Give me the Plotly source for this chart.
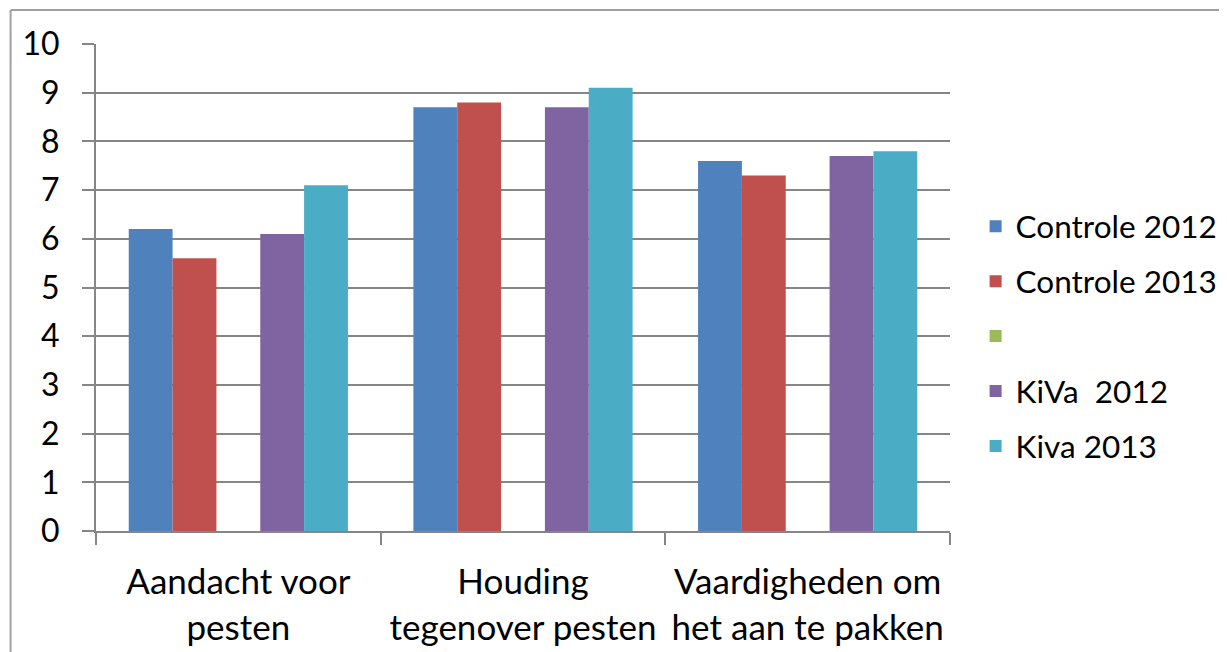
import plotly.graph_objects as go

categories = ["Aandacht voor<br>pesten", "Houding<br>tegenover pesten", "Vaardigheden om<br>het aan te pakken"]
series_names = ["Controle 2012", "Controle 2013", " ", "KiVa  2012", "Kiva 2013"]
controle_2012 = [6.2, 8.7, 7.6]
controle_2013 = [5.6, 8.8, 7.3]
empty_series = [None, None, None]
kiva_2012 = [6.1, 8.7, 7.7]
kiva_2013 = [7.1, 9.1, 7.8]
colors = ["#4F81BD", "#C0504D", "#9BBB59", "#8064A2", "#4BACC6"]
y_ticks = list(range(0, 11))

FONT = "Lato"
fig = go.Figure()
for i, (name, vals) in enumerate(zip(series_names,
                                     [controle_2012, controle_2013, empty_series, kiva_2012, kiva_2013])):
    fig.add_trace(go.Bar(x=categories, y=vals, name=name, marker_color=colors[i],
                         marker_line_width=0, legendgroup=str(i)))

# page has an 8px body margin, so the figure is laid out 8px up/left of the reference
fig.update_layout(
    width=1219, height=644,
    margin=dict(l=88, r=277, t=36, b=121, autoexpand=False),
    paper_bgcolor="white", plot_bgcolor="white",
    barmode="group", bargap=0.23, bargroupgap=0,
    font=dict(family=FONT, size=32, color="black"),
    legend=dict(x=1.030, xanchor="left", y=0.40, yanchor="middle",
                font=dict(family=FONT, size=31.5, color="black"),
                tracegroupgap=11, itemwidth=30),
    showlegend=True,
)
fig.update_yaxes(range=[0, 10], tickvals=y_ticks, showgrid=True, gridcolor="#868686", gridwidth=1.5,
                 showline=True, linecolor="#868686", linewidth=2, ticks="outside", ticklen=12,
                 tickcolor="#868686", tickwidth=2, zeroline=False, ticklabelstandoff=16,
                 tickfont=dict(family=FONT, size=32), automargin=False)
fig.update_xaxes(showline=True, linecolor="#868686", linewidth=2, ticks="outside", ticklen=12,
                 tickcolor="#868686", tickwidth=2, tickson="boundaries", ticklabelstandoff=19,
                 tickfont=dict(family=FONT, size=35), tickangle=0, automargin=False)

# outer chart border (extends off the canvas on the right and bottom)
fig.add_shape(type="line", xref="paper", yref="paper", x0=-0.1, x1=1.5, y0=1.0698, y1=1.0698,
              line=dict(color="#A0A0A0", width=2))
fig.add_shape(type="line", xref="paper", yref="paper", x0=-0.1, x1=-0.1, y0=1.0698, y1=-0.5,
              line=dict(color="#A0A0A0", width=2))

fig.write_html("out.html")
